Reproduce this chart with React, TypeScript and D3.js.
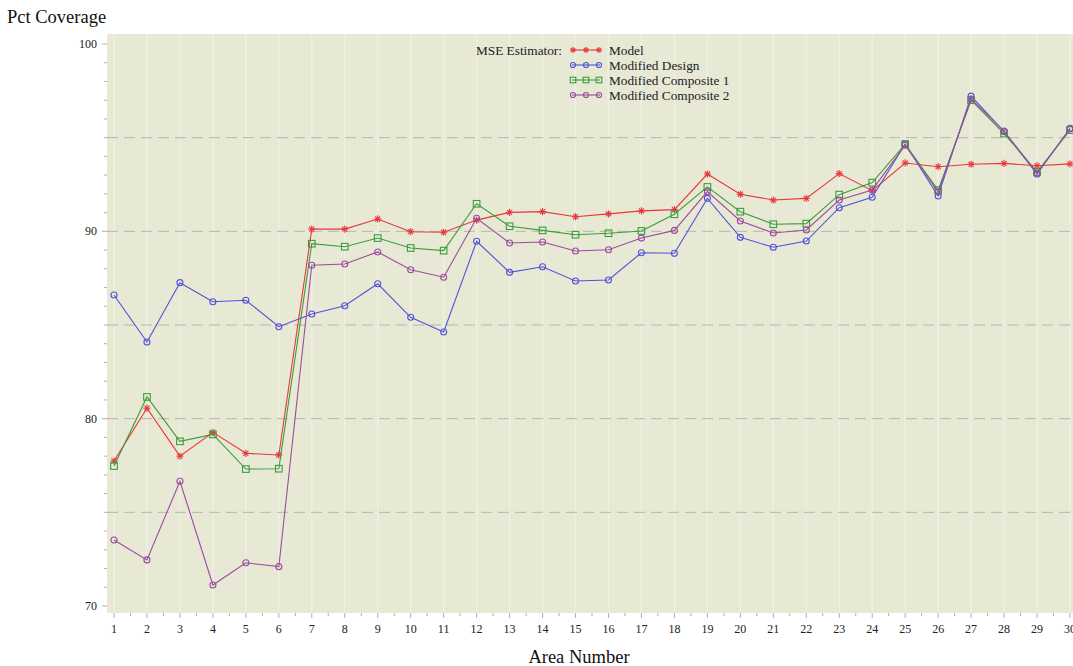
import React from "react";
import * as d3 from "d3";

const areas = d3.range(1, 31);
const model = [77.74, 80.56, 78.0, 79.27, 78.15, 78.06, 90.12, 90.12, 90.66, 89.98, 89.95, 90.6, 91.01, 91.05, 90.78, 90.93, 91.09, 91.16, 93.06, 91.98, 91.67, 91.76, 93.08, 92.17, 93.65, 93.45, 93.58, 93.63, 93.5, 93.6];
const modDesign = [86.6, 84.09, 87.26, 86.24, 86.32, 84.91, 85.59, 86.03, 87.2, 85.41, 84.63, 89.47, 87.81, 88.11, 87.35, 87.4, 88.86, 88.83, 91.76, 89.68, 89.15, 89.48, 91.26, 91.82, 94.66, 91.89, 97.22, 95.32, 93.06, 95.5];
const modComp1 = [77.47, 81.16, 78.79, 79.16, 77.31, 77.33, 89.34, 89.18, 89.64, 89.11, 88.97, 91.47, 90.27, 90.05, 89.82, 89.9, 90.02, 90.91, 92.37, 91.05, 90.38, 90.41, 91.96, 92.6, 94.66, 92.2, 97.0, 95.22, 93.17, 95.4];
const modComp2 = [73.52, 72.46, 76.66, 71.12, 72.31, 72.1, 88.19, 88.26, 88.9, 87.95, 87.55, 90.7, 89.38, 89.43, 88.95, 89.02, 89.64, 90.05, 92.12, 90.55, 89.91, 90.07, 91.67, 92.21, 94.6, 92.1, 97.06, 95.35, 93.11, 95.46];
const yTicks = [70, 80, 90, 100];
const gridVals = [75, 80, 85, 90, 95];

const seriesNames = ["Model", "Modified Design", "Modified Composite 1", "Modified Composite 2"];
const seriesData = [model, modDesign, modComp1, modComp2];
const seriesColors = ["#e8363a", "#5252d8", "#3c9c3c", "#9c4c9c"];
const seriesMarkers = ["star", "circle", "square", "circle"];

const W = 1073, H = 666;
const PL = 107, PT = 34, PB = 613, PR = 1090;
const FONT = "'Liberation Serif', 'DejaVu Serif', serif";

function Marker({ type, x, y, color, s = 1 }: { type: string; x: number; y: number; color: string; s?: number }) {
  if (type === "star") {
    const r = 3.6 * s;
    return (
      <g stroke={color} strokeWidth={1.1}>
        <line x1={x - r} y1={y} x2={x + r} y2={y} />
        <line x1={x} y1={y - r} x2={x} y2={y + r} />
        <line x1={x - r * 0.7} y1={y - r * 0.7} x2={x + r * 0.7} y2={y + r * 0.7} />
        <line x1={x - r * 0.7} y1={y + r * 0.7} x2={x + r * 0.7} y2={y - r * 0.7} />
      </g>
    );
  }
  if (type === "square") {
    const h = 3.3 * s;
    return <rect x={x - h} y={y - h} width={2 * h} height={2 * h} fill="none" stroke={color} strokeWidth={1.1} />;
  }
  return <circle cx={x} cy={y} r={3 * s} fill="none" stroke={color} strokeWidth={1.1} />;
}

export default function App() {
  const x = d3.scaleLinear().domain([1, 30]).range([114, 1070]);
  const y = d3.scaleLinear().domain([70, 100]).range([606, 44]);
  const line = d3.line<number>().x((_, i) => x(areas[i])).y((d) => y(d));
  const minorY = d3.range(70, 101, 1);
  const minorX = d3.range(1, 30.5, 0.5);

  return (
    <svg width={W} height={H} style={{ position: "absolute", left: 0, top: 0 }} fontFamily={FONT}>
      <rect x={0} y={0} width={W} height={H} fill="#ffffff" />
      <rect x={PL} y={PT} width={PR - PL} height={PB - PT} fill="#e7e9d5" />
      {areas.map((a) => (
        <line key={"vg" + a} x1={x(a)} x2={x(a)} y1={PT} y2={PB} stroke="#eef0e2" strokeWidth={1.5} />
      ))}
      {gridVals.map((v) => (
        <line key={"g" + v} x1={PL} x2={PR} y1={y(v)} y2={y(v)} stroke="#b5b6a8" strokeWidth={1} strokeDasharray="11,6" />
      ))}
      {minorY.map((v) => {
        const major = v % 10 === 0;
        return (
          <line key={"yt" + v} x1={major ? PL - 5 : PL - 3} x2={PL} y1={y(v)} y2={y(v)} stroke="#b0b0a8" strokeWidth={1} />
        );
      })}
      {yTicks.map((v) => (
        <text key={"yl" + v} x={97} y={y(v) + 4} textAnchor="end" fontSize={12} fill="#222">
          {v}
        </text>
      ))}
      {minorX.map((v) => {
        const major = Number.isInteger(v);
        return (
          <line key={"xt" + v} x1={x(v)} x2={x(v)} y1={PB} y2={PB + (major ? 5 : 3)} stroke="#b0b0a8" strokeWidth={1} />
        );
      })}
      {areas.map((a) => (
        <text key={"xl" + a} x={x(a)} y={633} textAnchor="middle" fontSize={12} fill="#222">
          {a}
        </text>
      ))}
      {seriesData.map((s, si) => (
        <g key={"s" + si}>
          <path d={line(s) || ""} fill="none" stroke={seriesColors[si]} strokeWidth={1.1} />
          {s.map((v, i) => (
            <Marker key={i} type={seriesMarkers[si]} x={x(areas[i])} y={y(v)} color={seriesColors[si]} />
          ))}
        </g>
      ))}
      <text x={562} y={54.5} textAnchor="end" fontSize={13.3} fill="#222">
        MSE Estimator:
      </text>
      {seriesNames.map((n, i) => {
        const ly = 50 + i * 15;
        return (
          <g key={"lg" + i}>
            <line x1={572} x2={600} y1={ly} y2={ly} stroke={seriesColors[i]} strokeWidth={1.1} />
            {[573, 586, 599].map((mx) => (
              <Marker key={mx} type={seriesMarkers[i]} x={mx} y={ly} color={seriesColors[i]} s={0.85} />
            ))}
            <text x={609} y={ly + 4.5} fontSize={13.3} fill="#222">
              {n}
            </text>
          </g>
        );
      })}
      <text x={7} y={23} fontSize={18.5} fill="#111">
        Pct Coverage
      </text>
      <text x={579} y={663} textAnchor="middle" fontSize={18.5} fill="#111">
        Area Number
      </text>
    </svg>
  );
}
